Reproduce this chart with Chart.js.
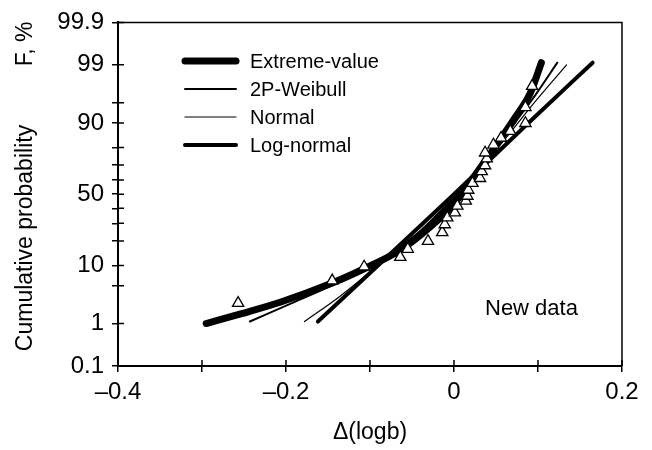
<!DOCTYPE html>
<html>
<head>
<meta charset="utf-8">
<script src="https://cdn.jsdelivr.net/npm/chart.js@4/dist/chart.umd.min.js"></script>
<style>
  body { margin: 0; background: #fff; }
  canvas { display: block; }
</style>
</head>
<body>
<canvas id="probChart" width="652" height="450"></canvas>
<script>
// measured points (triangles), F in %
const pointX = [-0.257, -0.145, -0.107, -0.064, -0.055, -0.031, -0.014, -0.011, -0.008, 0.001, 0.004, 0.014, 0.016,
  0.017, 0.022, 0.031, 0.033, 0.037, 0.039, 0.037, 0.047, 0.056, 0.067, 0.085, 0.085, 0.093];
const pointF = [2.5, 6.0, 9.6, 12.9, 16.2, 19.9, 24.6, 29.3, 33.7, 37.0, 41.7, 45.2, 48.7,
  53.0, 57.9, 61.3, 65.9, 69.7, 73.9, 77.2, 81.3, 84.4, 87.2, 89.9, 94.1, 97.4];

// fitted curves
const evX = [-0.295, -0.255, -0.207, -0.145, -0.107, -0.064, -0.029, 0.001, 0.025, 0.049, 0.073, 0.091, 0.104];
const evF = [1.0, 1.55, 2.6, 5.5, 9.0, 15.7, 27.5, 43.8, 63.3, 80.3, 91.7, 96.6, 99.1];
const wbX = [-0.243, -0.193, -0.136, -0.088, -0.046, -0.011, 0.019, 0.049, 0.073, 0.097, 0.123];
const wbF = [1.1, 2.5, 5.8, 11.9, 23.0, 40.4, 59.2, 78.3, 90.2, 96.3, 99.1];
const nmX = [-0.178, -0.136, -0.088, -0.040, -0.005, 0.031, 0.061, 0.091, 0.134];
const nmF = [1.1, 3.3, 10.5, 25.7, 45.2, 67.9, 84.0, 94.1, 99.0];
const lnX = [-0.162, 0.000, 0.087, 0.165];
const lnF = [1.1, 50, 89.6, 99.1];

// axes
const xTicks = [-0.4, -0.3, -0.2, -0.1, 0, 0.1, 0.2];
const xLabels = ['\u20130.4', '', '\u20130.2', '', '0', '', '0.2'];
const yTicks = [0.1, 1, 5, 10, 20, 30, 40, 50, 60, 70, 80, 90, 95, 99, 99.9];
const yLabels = ['0.1', '1', '', '10', '', '', '', '50', '', '', '', '90', '', '99', '99.9'];

const FONT = '"Liberation Sans", Arial, Helvetica, sans-serif';

// inverse normal cdf (Acklam) -> normal probability paper
const probit = (p) => {
  const a = [-39.69683028665376, 220.9460984245205, -275.9285104469687, 138.3577518672690, -30.66479806614716, 2.506628277459239];
  const b = [-54.47609879822406, 161.5858368580409, -155.6989798598866, 66.80131188771972, -13.28068155288572];
  const c = [-0.007784894002430293, -0.3223964580411365, -2.400758277161838, -2.549732539343734, 4.374664141464968, 2.938163982698783];
  const d = [0.007784695709041462, 0.3224671290700398, 2.445134137142996, 3.754408661907416];
  const plow = 0.02425;
  let q, r;
  if (p < plow) {
    q = Math.sqrt(-2 * Math.log(p));
    return (((((c[0]*q+c[1])*q+c[2])*q+c[3])*q+c[4])*q+c[5]) / ((((d[0]*q+d[1])*q+d[2])*q+d[3])*q+1);
  }
  if (p > 1 - plow) {
    q = Math.sqrt(-2 * Math.log(1 - p));
    return -(((((c[0]*q+c[1])*q+c[2])*q+c[3])*q+c[4])*q+c[5]) / ((((d[0]*q+d[1])*q+d[2])*q+d[3])*q+1);
  }
  q = p - 0.5; r = q * q;
  return (((((a[0]*r+a[1])*r+a[2])*r+a[3])*r+a[4])*r+a[5])*q / (((((b[0]*r+b[1])*r+b[2])*r+b[3])*r+b[4])*r+1);
};

const toPts = (xs, fs) => xs.map((x, i) => ({ x: x, y: probit(fs[i] / 100) }));

const lineSet = (label, xs, fs, w, order) => ({
  label: label,
  data: toPts(xs, fs),
  borderColor: '#000',
  borderWidth: w,
  borderCapStyle: 'round',
  borderJoinStyle: 'round',
  pointRadius: 0,
  showLine: true,
  fill: false,
  cubicInterpolationMode: 'monotone',
  order: order
});

// box on top/right, inner tick halves, legend and note
const decorations = {
  id: 'decorations',
  afterDraw(chart) {
    const { ctx, chartArea: a, scales } = chart;
    ctx.save();
    ctx.strokeStyle = '#000';
    ctx.lineWidth = 1.5;
    ctx.beginPath();
    ctx.moveTo(a.left, a.top);
    ctx.lineTo(a.right, a.top);
    ctx.lineTo(a.right, a.bottom);
    ctx.stroke();

    ctx.beginPath();
    scales.y.ticks.forEach(t => {
      const py = scales.y.getPixelForValue(t.value);
      ctx.moveTo(a.left, py);
      ctx.lineTo(a.left + 6, py);
    });
    scales.x.ticks.forEach(t => {
      const px = scales.x.getPixelForValue(t.value);
      ctx.moveTo(px, a.bottom);
      ctx.lineTo(px, a.bottom - 6);
    });
    ctx.stroke();

    // legend
    ctx.fillStyle = '#000';
    ctx.font = '20px ' + FONT;
    ctx.textBaseline = 'middle';
    ctx.textAlign = 'left';
    chart.data.datasets.filter(ds => ds.showLine).forEach((ds, i) => {
      const y = 61 + i * 28;
      ctx.lineWidth = ds.borderWidth;
      ctx.lineCap = 'round';
      ctx.beginPath();
      ctx.moveTo(185, y);
      ctx.lineTo(236, y);
      ctx.stroke();
      ctx.fillText(ds.label, 250, y + 1);
    });

    ctx.font = '22px ' + FONT;
    ctx.fillText('New data', 485, 309);

    // y title
    ctx.font = '23px ' + FONT;
    ctx.textBaseline = 'alphabetic';
    ctx.textAlign = 'center';
    ctx.translate(32, 0);
    ctx.rotate(-Math.PI / 2);
    ctx.fillText('Cumulative probability', -238, 0);
    ctx.fillText('F, %', -44, 0);
    ctx.restore();
  }
};

new Chart(document.getElementById('probChart'), {
  type: 'scatter',
  data: {
    datasets: [
      {
        label: 'data',
        data: toPts(pointX, pointF),
        pointStyle: 'triangle',
        pointRadius: 6.5,
        pointBackgroundColor: '#fff',
        pointBorderColor: '#000',
        pointBorderWidth: 1.3,
        showLine: false,
        order: 0
      },
      lineSet('Extreme-value', evX, evF, 7, 1),
      lineSet('2P-Weibull', wbX, wbF, 2, 2),
      lineSet('Normal', nmX, nmF, 1.2, 3),
      lineSet('Log-normal', lnX, lnF, 4, 4)
    ]
  },
  options: {
    responsive: false,
    animation: false,
    layout: { padding: { left: 0, top: 17, right: 30, bottom: 0 } },
    plugins: {
      legend: { display: false },
      tooltip: { enabled: false }
    },
    scales: {
      x: {
        type: 'linear',
        min: -0.4,
        max: 0.2,
        afterFit: (s) => { s.height = 84; },
        afterBuildTicks: (s) => { s.ticks = xTicks.map(v => ({ value: v })); },
        border: { display: true, color: '#000', width: 2 },
        grid: { drawOnChartArea: false, color: '#000', lineWidth: 1.5, tickLength: 6 },
        ticks: {
          autoSkip: false,
          maxRotation: 0,
          padding: 6,
          color: '#000',
          font: { family: FONT, size: 24 },
          callback: (v, i) => xLabels[i]
        },
        title: {
          display: true,
          text: '\u0394(logb)',
          color: '#000',
          font: { family: FONT, size: 23 },
          padding: { bottom: 4 }
        }
      },
      y: {
        type: 'linear',
        min: probit(0.001),
        max: probit(0.999),
        afterFit: (s) => { s.width = 118; },
        afterBuildTicks: (s) => { s.ticks = yTicks.map(p => ({ value: probit(p / 100) })); },
        border: { display: true, color: '#000', width: 2 },
        grid: { drawOnChartArea: false, color: '#000', lineWidth: 1.5, tickLength: 6 },
        ticks: {
          autoSkip: false,
          padding: 8,
          color: '#000',
          font: { family: FONT, size: 24 },
          callback: (v, i) => yLabels[i]
        }
      }
    }
  },
  plugins: [decorations]
});
</script>
</body>
</html>
